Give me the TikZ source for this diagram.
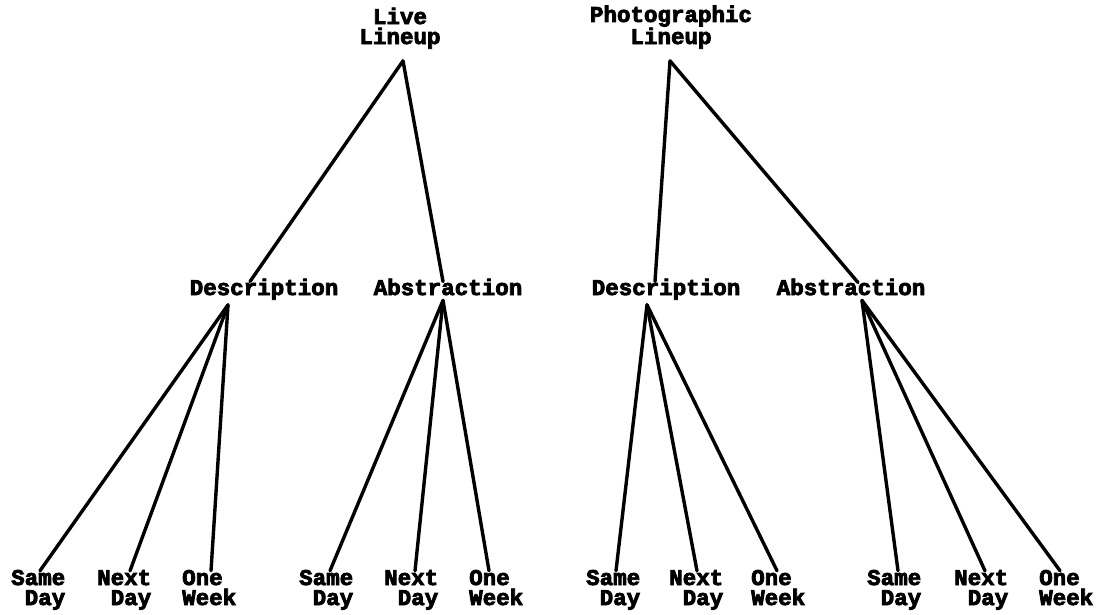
\documentclass[tikz,border=0pt]{standalone}
\usepackage{fontspec}
\setmonofont{Liberation Mono}[BoldFeatures={FakeBold=3.5}]
\begin{document}
\begin{tikzpicture}[x=1pt,y=-1pt,
  lbl/.style={font=\ttfamily\bfseries\fontsize{22.5}{20}\selectfont, inner sep=0pt},
  head/.style={lbl, align=center, anchor=base},
  mid/.style={lbl, anchor=base},
  leaf/.style={lbl, align=left, anchor=base west},
  edge/.style={line width=3.4pt, line cap=round}]
\useasboundingbox (0,0) rectangle (1107,614);

% top level (anchored on the baseline of the last line)
\node[head] (live)  at (400,44) {Live\\Lineup};
\node[head] (photo) at (671,44) {Photographic\\Lineup};

% second level
\node[mid] (d1) at (264,295) {Description};
\node[mid] (a1) at (448,295) {Abstraction};
\node[mid] (d2) at (666,295) {Description};
\node[mid] (a2) at (851,295) {Abstraction};

% leaves (anchored on the baseline of the second line)
\node[leaf] (d1s) at (11,605)  {Same\\\hphantom{S}Day};
\node[leaf] (d1n) at (97,605)  {Next\\\hphantom{N}Day};
\node[leaf] (d1w) at (182,605) {One\\Week};
\node[leaf] (a1s) at (299,605) {Same\\\hphantom{S}Day};
\node[leaf] (a1n) at (384,605) {Next\\\hphantom{N}Day};
\node[leaf] (a1w) at (469,605) {One\\Week};
\node[leaf] (d2s) at (586,605) {Same\\\hphantom{S}Day};
\node[leaf] (d2n) at (669,605) {Next\\\hphantom{N}Day};
\node[leaf] (d2w) at (751,605) {One\\Week};
\node[leaf] (a2s) at (867,605) {Same\\\hphantom{S}Day};
\node[leaf] (a2n) at (954,605) {Next\\\hphantom{N}Day};
\node[leaf] (a2w) at (1039,605) {One\\Week};

% branches from the top
\draw[edge] ([shift={(3,12)}]live.south) -- ([shift={(-14,3)}]d1.north);
\draw[edge] ([shift={(3,12)}]live.south) -- ([shift={(-5,3)}]a1.north);
\draw[edge] ([shift={(-1,12)}]photo.south) -- ([shift={(-11,3)}]d2.north);
\draw[edge] ([shift={(-1,12)}]photo.south) -- ([shift={(7,4)}]a2.north);

% branches to the leaves
\draw[edge] ([shift={(-36,5)}]d1.south) -- ([shift={(29,1)}]d1s.north west);
\draw[edge] ([shift={(-36,5)}]d1.south) -- ([shift={(33,1)}]d1n.north west);
\draw[edge] ([shift={(-36,5)}]d1.south) -- ([shift={(29,1)}]d1w.north west);
\draw[edge] ([shift={(-5,5)}]a1.south) -- ([shift={(31,1)}]a1s.north west);
\draw[edge] ([shift={(-5,5)}]a1.south) -- ([shift={(31,1)}]a1n.north west);
\draw[edge] ([shift={(-5,5)}]a1.south) -- ([shift={(20,1)}]a1w.north west);
\draw[edge] ([shift={(-19,5)}]d2.south) -- ([shift={(30,1)}]d2s.north west);
\draw[edge] ([shift={(-19,5)}]d2.south) -- ([shift={(28,1)}]d2n.north west);
\draw[edge] ([shift={(-19,5)}]d2.south) -- ([shift={(26,1)}]d2w.north west);
\draw[edge] ([shift={(11,5)}]a2.south) -- ([shift={(31,1)}]a2s.north west);
\draw[edge] ([shift={(11,5)}]a2.south) -- ([shift={(31,1)}]a2n.north west);
\draw[edge] ([shift={(11,5)}]a2.south) -- ([shift={(21,1)}]a2w.north west);
\end{tikzpicture}
\end{document}
